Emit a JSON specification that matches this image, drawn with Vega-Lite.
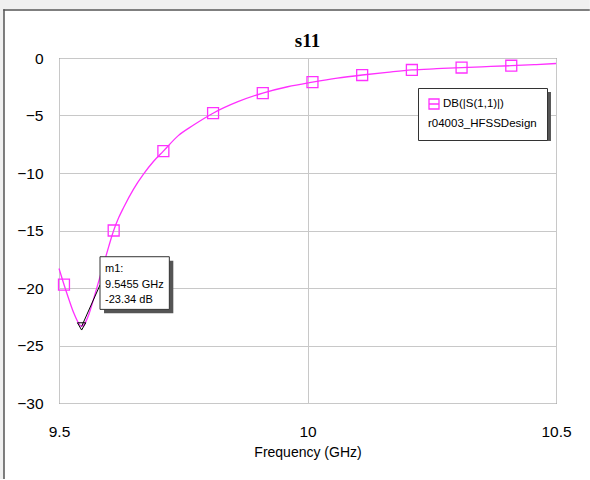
{
  "$schema": "https://vega.github.io/schema/vega-lite/v6.json",
  "autosize": "none",
  "width": 497,
  "height": 345,
  "padding": {"left": 59, "top": 58, "right": 34, "bottom": 77},
  "background": "white",
  "title": {"text": "s11", "font": "Liberation Serif", "fontSize": 19, "fontWeight": "bold", "color": "black", "anchor": "middle", "offset": -60, "frame": "group"},
  "datasets": {
    "curve": [
      {"freq": 9.500, "db": -18.3}, {"freq": 9.505, "db": -19.0}, {"freq": 9.510, "db": -19.7},
      {"freq": 9.520, "db": -21.0}, {"freq": 9.530, "db": -22.2}, {"freq": 9.540, "db": -23.1},
      {"freq": 9.5455, "db": -23.34}, {"freq": 9.550, "db": -23.2}, {"freq": 9.560, "db": -22.3},
      {"freq": 9.570, "db": -20.9}, {"freq": 9.580, "db": -19.4}, {"freq": 9.590, "db": -17.9},
      {"freq": 9.600, "db": -16.4}, {"freq": 9.610, "db": -15.0}, {"freq": 9.620, "db": -13.9},
      {"freq": 9.630, "db": -13.0}, {"freq": 9.650, "db": -11.4}, {"freq": 9.670, "db": -10.1},
      {"freq": 9.690, "db": -9.0}, {"freq": 9.710, "db": -8.1}, {"freq": 9.740, "db": -6.75},
      {"freq": 9.770, "db": -5.85}, {"freq": 9.810, "db": -4.8}, {"freq": 9.860, "db": -3.8},
      {"freq": 9.910, "db": -3.05}, {"freq": 9.960, "db": -2.5}, {"freq": 10.010, "db": -2.1},
      {"freq": 10.060, "db": -1.75}, {"freq": 10.110, "db": -1.48}, {"freq": 10.160, "db": -1.25},
      {"freq": 10.210, "db": -1.04}, {"freq": 10.260, "db": -0.93}, {"freq": 10.310, "db": -0.83},
      {"freq": 10.360, "db": -0.75}, {"freq": 10.410, "db": -0.67}, {"freq": 10.460, "db": -0.57},
      {"freq": 10.500, "db": -0.48}
    ],
    "markers": [
      {"series": "DB(|S(1,1)|)", "freq": 9.51, "db": -19.7},
      {"series": "DB(|S(1,1)|)", "freq": 9.61, "db": -15.0},
      {"series": "DB(|S(1,1)|)", "freq": 9.71, "db": -8.1},
      {"series": "DB(|S(1,1)|)", "freq": 9.81, "db": -4.8},
      {"series": "DB(|S(1,1)|)", "freq": 9.91, "db": -3.05},
      {"series": "DB(|S(1,1)|)", "freq": 10.01, "db": -2.1},
      {"series": "DB(|S(1,1)|)", "freq": 10.11, "db": -1.48},
      {"series": "DB(|S(1,1)|)", "freq": 10.21, "db": -1.04},
      {"series": "DB(|S(1,1)|)", "freq": 10.31, "db": -0.83},
      {"series": "DB(|S(1,1)|)", "freq": 10.41, "db": -0.67}
    ],
    "m1": [{"name": "m1", "freq": 9.5455, "db": -23.34}],
    "one": [{}]
  },
  "config": {
    "view": {"stroke": "#404040", "strokeWidth": 1},
    "axis": {
      "grid": true, "gridColor": "#c8c8c8", "gridWidth": 1, "domain": false, "ticks": false,
      "labelFont": "Liberation Sans, Arial", "labelFontSize": 15.5, "labelColor": "black",
      "titleFont": "Liberation Sans, Arial", "titleFontSize": 14, "titleFontWeight": "normal", "titleColor": "black",
      "labelFlush": false, "labelOverlap": false, "format": "~g"
    },
    "axisX": {"labelPadding": 21, "titlePadding": 6},
    "axisY": {"labelPadding": 16}
  },
  "layer": [
    {
      "data": {"name": "one"},
      "mark": {"type": "rule", "stroke": "#f0f0f0", "strokeWidth": 18, "strokeCap": "butt", "clip": false},
      "encoding": {
        "x": {"datum": 9.37, "type": "quantitative", "scale": {"domain": [9.5, 10.5], "nice": false, "zero": false}, "axis": {"values": [9.5, 10, 10.5], "title": "Frequency (GHz)"}},
        "x2": {"datum": 10.568},
        "y": {"datum": 5.0435, "type": "quantitative", "scale": {"domain": [-30, 0], "nice": false, "zero": false}, "axis": {"values": [-30, -25, -20, -15, -10, -5, 0], "title": null}}
      }
    },
    {
      "data": {"name": "one"},
      "mark": {"type": "rule", "stroke": "#f0f0f0", "strokeWidth": 8, "strokeCap": "butt", "clip": false},
      "encoding": {
        "x": {"datum": 9.38129, "type": "quantitative", "scale": {"domain": [9.5, 10.5], "nice": false, "zero": false}, "axis": {"values": [9.5, 10, 10.5], "title": "Frequency (GHz)"}},
        "y": {"datum": 5.0435, "type": "quantitative", "scale": {"domain": [-30, 0], "nice": false, "zero": false}, "axis": {"values": [-30, -25, -20, -15, -10, -5, 0], "title": null}},
        "y2": {"datum": -36.6}
      }
    },
    {
      "data": {"name": "one"},
      "mark": {"type": "rule", "stroke": "#555555", "strokeWidth": 1.5, "strokeCap": "butt", "clip": false},
      "encoding": {
        "x": {"datum": 9.3879, "type": "quantitative", "scale": {"domain": [9.5, 10.5], "nice": false, "zero": false}, "axis": {"values": [9.5, 10, 10.5], "title": "Frequency (GHz)"}},
        "x2": {"datum": 10.568},
        "y": {"datum": 4.174, "type": "quantitative", "scale": {"domain": [-30, 0], "nice": false, "zero": false}, "axis": {"values": [-30, -25, -20, -15, -10, -5, 0], "title": null}}
      }
    },
    {
      "data": {"name": "one"},
      "mark": {"type": "rule", "stroke": "#555555", "strokeWidth": 1.5, "strokeCap": "butt", "clip": false},
      "encoding": {
        "x": {"datum": 9.38934, "type": "quantitative", "scale": {"domain": [9.5, 10.5], "nice": false, "zero": false}, "axis": {"values": [9.5, 10, 10.5], "title": "Frequency (GHz)"}},
        "y": {"datum": 4.24, "type": "quantitative", "scale": {"domain": [-30, 0], "nice": false, "zero": false}, "axis": {"values": [-30, -25, -20, -15, -10, -5, 0], "title": null}},
        "y2": {"datum": -36.6}
      }
    },
    {
      "data": {"name": "curve"},
      "mark": {"type": "line", "color": "#ff30ff", "strokeWidth": 1.3, "interpolate": "monotone"},
      "encoding": {
        "x": {"field": "freq", "type": "quantitative", "scale": {"domain": [9.5, 10.5], "nice": false, "zero": false}, "axis": {"values": [9.5, 10, 10.5], "title": "Frequency (GHz)"}},
        "y": {"field": "db", "type": "quantitative", "scale": {"domain": [-30, 0], "nice": false, "zero": false}, "axis": {"values": [-30, -25, -20, -15, -10, -5, 0], "title": null}}
      }
    },
    {
      "data": {"name": "markers"},
      "mark": {"type": "point", "shape": "square", "filled": false, "size": 120, "strokeWidth": 1.3, "opacity": 1},
      "encoding": {
        "x": {"field": "freq", "type": "quantitative", "scale": {"domain": [9.5, 10.5], "nice": false, "zero": false}, "axis": {"values": [9.5, 10, 10.5], "title": "Frequency (GHz)"}},
        "y": {"field": "db", "type": "quantitative", "scale": {"domain": [-30, 0], "nice": false, "zero": false}, "axis": {"values": [-30, -25, -20, -15, -10, -5, 0], "title": null}},
        "stroke": {
          "field": "series", "type": "nominal",
          "scale": {"range": ["#ff30ff"]},
          "legend": {
            "orient": "none", "legendX": 359, "legendY": 30,
            "padding": 10, "strokeColor": "#333333", "fillColor": "white",
            "title": "r04003_HFSSDesign", "titleOrient": "bottom", "titlePadding": 6,
            "titleFont": "Liberation Sans, Arial", "titleFontSize": 11.5, "titleFontWeight": "normal", "titleColor": "black",
            "labelFont": "Liberation Sans, Arial", "labelFontSize": 11.5, "labelColor": "black", "labelOffset": 3,
            "symbolType": "M-1,-1H1V1H-1Z M-1,0H1", "symbolSize": 100, "symbolStrokeWidth": 1.3, "symbolFillColor": "transparent"
          }
        }
      }
    },
    {
      "data": {"name": "m1"},
      "mark": {"type": "rule", "color": "black", "strokeWidth": 1},
      "encoding": {
        "x": {"field": "freq", "type": "quantitative", "scale": {"domain": [9.5, 10.5], "nice": false, "zero": false}, "axis": {"values": [9.5, 10, 10.5], "title": "Frequency (GHz)"}},
        "y": {"field": "db", "type": "quantitative", "scale": {"domain": [-30, 0], "nice": false, "zero": false}, "axis": {"values": [-30, -25, -20, -15, -10, -5, 0], "title": null}},
        "x2": {"datum": 9.5825},
        "y2": {"datum": -19.74}
      }
    },
    {
      "data": {"name": "m1"},
      "mark": {"type": "point", "shape": "triangle-down", "filled": false, "size": 70, "stroke": "black", "strokeWidth": 1, "opacity": 1},
      "encoding": {
        "x": {"field": "freq", "type": "quantitative", "scale": {"domain": [9.5, 10.5], "nice": false, "zero": false}, "axis": {"values": [9.5, 10, 10.5], "title": "Frequency (GHz)"}},
        "y": {"field": "db", "type": "quantitative", "scale": {"domain": [-30, 0], "nice": false, "zero": false}, "axis": {"values": [-30, -25, -20, -15, -10, -5, 0], "title": null}}
      }
    },
    {
      "data": {"name": "one"},
      "mark": {"type": "rect", "fill": "#555555"},
      "encoding": {
        "x": {"datum": 9.5906, "type": "quantitative", "scale": {"domain": [9.5, 10.5], "nice": false, "zero": false}, "axis": {"values": [9.5, 10, 10.5], "title": "Frequency (GHz)"}},
        "x2": {"datum": 9.7300},
        "y": {"datum": -17.63, "type": "quantitative", "scale": {"domain": [-30, 0], "nice": false, "zero": false}, "axis": {"values": [-30, -25, -20, -15, -10, -5, 0], "title": null}},
        "y2": {"datum": -22.2}
      }
    },
    {
      "data": {"name": "one"},
      "mark": {"type": "rect", "fill": "white", "stroke": "#333333", "strokeWidth": 1},
      "encoding": {
        "x": {"datum": 9.5825, "type": "quantitative", "scale": {"domain": [9.5, 10.5], "nice": false, "zero": false}, "axis": {"values": [9.5, 10, 10.5], "title": "Frequency (GHz)"}},
        "x2": {"datum": 9.7220},
        "y": {"datum": -17.28, "type": "quantitative", "scale": {"domain": [-30, 0], "nice": false, "zero": false}, "axis": {"values": [-30, -25, -20, -15, -10, -5, 0], "title": null}},
        "y2": {"datum": -21.86}
      }
    },
    {
      "data": {"name": "one"},
      "mark": {"type": "text", "align": "left", "baseline": "alphabetic", "font": "Liberation Sans, Arial", "fontSize": 11, "lineHeight": 15.5, "color": "black",
               "text": ["m1:", "9.5455 GHz", "-23.34 dB"]},
      "encoding": {
        "x": {"datum": 9.5926, "type": "quantitative", "scale": {"domain": [9.5, 10.5], "nice": false, "zero": false}, "axis": {"values": [9.5, 10, 10.5], "title": "Frequency (GHz)"}},
        "y": {"datum": -18.61, "type": "quantitative", "scale": {"domain": [-30, 0], "nice": false, "zero": false}, "axis": {"values": [-30, -25, -20, -15, -10, -5, 0], "title": null}}
      }
    },
    {
      "data": {"name": "one"},
      "mark": {"type": "rect", "fill": "#555555"},
      "encoding": {
        "x": {"datum": 10.2304, "type": "quantitative", "scale": {"domain": [9.5, 10.5], "nice": false, "zero": false}, "axis": {"values": [9.5, 10, 10.5], "title": "Frequency (GHz)"}},
        "x2": {"datum": 10.4899},
        "y": {"datum": -2.957, "type": "quantitative", "scale": {"domain": [-30, 0], "nice": false, "zero": false}, "axis": {"values": [-30, -25, -20, -15, -10, -5, 0], "title": null}},
        "y2": {"datum": -7.217}
      }
    }
  ]
}
